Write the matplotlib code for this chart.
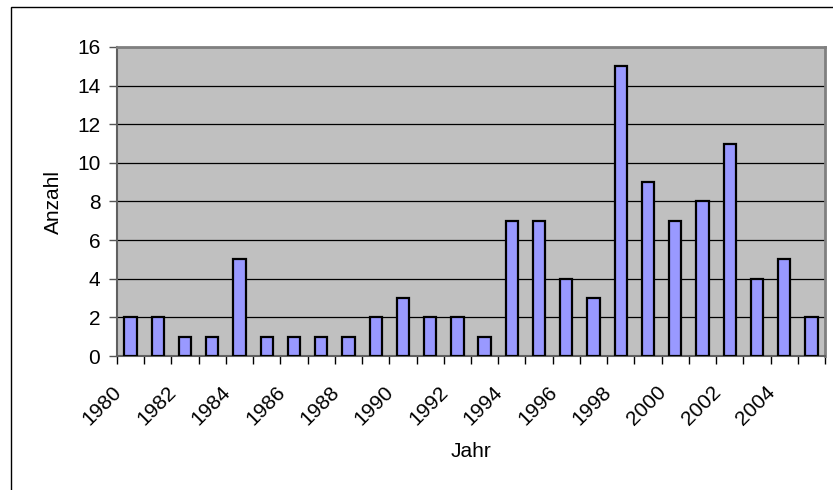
import matplotlib
matplotlib.use("Agg")
import matplotlib.pyplot as plt
import matplotlib.transforms as mtransforms
from matplotlib.patches import Rectangle
import numpy as np

years = list(range(1980, 2006))
values = [2, 2, 1, 1, 5, 1, 1, 1, 1, 2, 3, 2, 2, 1, 7, 7, 4, 3, 15, 9, 7, 8, 11, 4, 5, 2]
tick_labels = [str(y) for y in years[::2]]

plt.rcParams['font.family'] = ['Liberation Sans', 'DejaVu Sans']

W, H = 833, 490
fig = plt.figure(figsize=(W / 100, H / 100), dpi=100)
fig.patch.set_facecolor('white')

# outer chart border
fig.patches.append(Rectangle((10.5 / W, -0.1), 1.2, 1.1 - 7 / H, transform=fig.transFigure,
                             fill=False, edgecolor='black', linewidth=1.0))

l, r, t, b = 117, 825, 47, 356
ax = fig.add_axes([l / W, 1 - b / H, (r - l) / W, (b - t) / H])
ax.set_facecolor('#C0C0C0')

x = np.arange(len(years))
ax.bar(x, values, width=0.45, color='#9999FF', edgecolor='black', linewidth=1.6, zorder=3)

ax.set_xlim(-0.5, len(years) - 0.5)
ax.set_ylim(0, 16)
ax.set_yticks(np.arange(0, 17, 2))
ax.yaxis.grid(True, color='black', linewidth=0.9, zorder=1)
ax.set_axisbelow(True)

ax.set_xticks(x[::2])
ax.set_xticklabels(tick_labels, rotation=45, ha='right', va='center', rotation_mode='anchor')
ax.set_xticks(np.arange(-0.5, len(years)), minor=True)
ax.tick_params(axis='x', which='major', length=0, pad=24, labelsize=15)
ax.tick_params(axis='x', which='minor', length=6, width=1, color='black', direction='out')
ax.tick_params(axis='y', length=6, width=1, color='#555555', labelsize=15, pad=6)

offset = mtransforms.ScaledTranslation(-12 / 100, 0, fig.dpi_scale_trans)
for lab in ax.get_xticklabels():
    lab.set_transform(lab.get_transform() + offset)

for s in ['top', 'right']:
    ax.spines[s].set_color('#808080')
    ax.spines[s].set_linewidth(2)
for s in ['left', 'bottom']:
    ax.spines[s].set_color('#606060')
    ax.spines[s].set_linewidth(1.5)

ax.set_xlabel('Jahr', fontsize=15, labelpad=9)
ax.set_ylabel('Anzahl', fontsize=15, labelpad=10)

fig.savefig('out.png', dpi=100)
